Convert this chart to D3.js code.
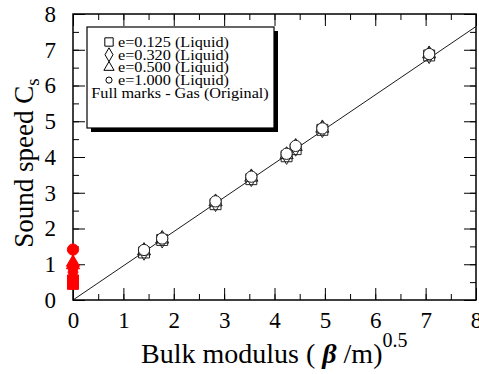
<!DOCTYPE html>
<html lang="en">
<head>
<meta charset="UTF-8">
<title>Sound speed</title>
<script src="https://d3js.org/d3.v7.min.js"></script>
<style>
  body { margin: 0; background: #fff; }
  text { font-family: "Liberation Serif", "Times New Roman", serif; }
</style>
</head>
<body>
<div id="chart"></div>
<script>
// liquid data (x = sqrt(beta/m), y = sound speed)
const xLiquid = [1.41, 1.77, 2.83, 3.54, 4.24, 4.42, 4.95, 7.07];
const ySquare = [1.33, 1.68, 2.68, 3.38, 4.02, 4.22, 4.76, 6.84];
const yDiamond = [1.36, 1.70, 2.72, 3.42, 4.04, 4.27, 4.79, 6.86];
const yTriangle = [1.37, 1.70, 2.74, 3.43, 4.06, 4.29, 4.80, 6.88];
const yCircle = [1.40, 1.72, 2.76, 3.45, 4.09, 4.31, 4.80, 6.88];
// gas (original) values, all at x = 0
const gasSquare = [0.45, 0.55];
const gasDiamond = [0.78, 0.88];
const gasTriangle = [0.98, 1.05];
const gasCircle = [1.41];
// fit line
const fitLine = [[0, 0], [8, 7.65]];
const legendLabels = ["e=0.125 (Liquid)", "e=0.320 (Liquid)", "e=0.500 (Liquid)", "e=1.000 (Liquid)"];
const xTicks = [0, 1, 2, 3, 4, 5, 6, 7, 8];
const yTicks = [0, 1, 2, 3, 4, 5, 6, 7, 8];

const W = 479, H = 374;
const margin = { top: 14, right: 3, bottom: 74, left: 73 };
const width = W - margin.left - margin.right,
      height = H - margin.top - margin.bottom;

const svg = d3.select("#chart").append("svg")
    .attr("width", W).attr("height", H);
const g = svg.append("g")
    .attr("transform", "translate(" + margin.left + "," + margin.top + ")");

const x = d3.scaleLinear().domain([0, 8]).range([0, width]);
const y = d3.scaleLinear().domain([0, 8]).range([height, 0]);

// minor/major ticks, inward on all four sides
const minor = d3.range(0, 8.01, 0.5);
function drawTicks(axisFn, scale, values, transform, len, pad) {
    const a = g.append("g").attr("transform", transform)
        .call(axisFn(scale).tickValues(minor)
            .tickSize(-len * 0.5)
            .tickFormat(""));
    a.select(".domain").remove();
    a.selectAll("line").attr("stroke", "#000")
        .attr("stroke-width", 1);
    const b = g.append("g").attr("transform", transform)
        .call(axisFn(scale).tickValues(values)
            .tickSize(-len)
            .tickPadding(pad || 0)
            .tickFormat(pad ? d3.format("d") : ""));
    b.select(".domain").remove();
    b.selectAll("line").attr("stroke", "#000").attr("stroke-width", 1);
    b.selectAll("text").style("font-size", "23px")
        .style("font-family", "'Liberation Serif', serif").attr("fill", "#000");
    return b;
}
drawTicks(d3.axisBottom, x, xTicks, "translate(0," + height + ")", 12, 12);
drawTicks(d3.axisTop, x, xTicks, "translate(0,0)", 12, 0);
drawTicks(d3.axisLeft, y, yTicks, "translate(0,0)", 12, 17);
drawTicks(d3.axisRight, y, yTicks, "translate(" + width + ",0)", 12, 0);

g.append("rect").attr("width", width).attr("height", height)
    .attr("fill", "none").attr("stroke", "#000").attr("stroke-width", 1.5);

// fit line
g.append("path").datum(fitLine)
    .attr("d", d3.line().x(d => x(d[0])).y(d => y(d[1])))
    .attr("fill", "none").attr("stroke", "#000").attr("stroke-width", 0.9);

const symSquare = d3.symbol().type(d3.symbolSquare).size(120);
const symDiamond = d3.symbol().type(d3.symbolDiamond).size(90);
const symTriangle = d3.symbol().type(d3.symbolTriangle).size(75);
const symCircle = d3.symbol().type(d3.symbolCircle).size(100);

function drawSeries(ys, sym, fill, stroke, xs) {
    g.append("g").selectAll("path")
        .data(ys)
        .join("path")
        .attr("d", sym)
        .attr("transform", (d, i) => "translate(" + x(xs ? xs[i] : 0) + "," + y(d) + ")")
        .attr("fill", fill)
        .attr("stroke", stroke)
        .attr("stroke-width", 1);
}

drawSeries(ySquare, symSquare, "none", "#222", xLiquid);
drawSeries(yDiamond, symDiamond, "none", "#222", xLiquid);
drawSeries(yTriangle, symTriangle, "none", "#222", xLiquid);
drawSeries(yCircle, symCircle, "#fff", "#222", xLiquid);

// gas marks (full, red)
drawSeries(gasSquare, symSquare, "red", "red");
drawSeries(gasDiamond, symDiamond, "red", "red");
drawSeries(gasTriangle, symTriangle, "red", "red");
drawSeries(gasCircle, symCircle, "red", "red");

// legend
const lg = svg.append("g").attr("transform", "translate(87,27)");
lg.append("rect").attr("x", 4).attr("y", 4).attr("width", 187).attr("height", 101).attr("fill", "#000");
lg.append("rect").attr("width", 187).attr("height", 101)
    .attr("fill", "#fff").attr("stroke", "#000").attr("stroke-width", 1.2);
const legSyms = [
    d3.symbol().type(d3.symbolSquare).size(70),
    d3.symbol().type(d3.symbolDiamond).size(55),
    d3.symbol().type(d3.symbolTriangle).size(45),
    d3.symbol().type(d3.symbolCircle).size(30)
];
legendLabels.forEach((t, i) => {
    const base = 20 + i * 12.7;
    lg.append("path").attr("d", legSyms[i])
        .attr("transform", "translate(22," + (base - 5) + ")")
        .attr("fill", "none").attr("stroke", "#000").attr("stroke-width", 1);
    lg.append("text").attr("transform", "translate(31," + base + ") scale(1.12,1)")
        .style("font-size", "14.5px").text(t);
});
lg.append("text").attr("transform", "translate(93," + (20 + 4 * 12.7) + ") scale(1.12,1)")
    .attr("text-anchor", "middle")
    .style("font-size", "14.5px").text("Full marks - Gas (Original)");

// axis titles
const xt = svg.append("text").attr("x", 141).attr("y", 363)
    .style("font-size", "28px");
xt.append("tspan").text("Bulk modulus ( ");
xt.append("tspan").style("font-weight", "bold").style("font-style", "italic").text("β");
xt.append("tspan").text(" /m)");
xt.append("tspan").attr("dy", "-16").style("font-size", "20px").text("0.5");

const yt = svg.append("text")
    .attr("transform", "translate(33,163) rotate(-90)")
    .attr("text-anchor", "middle").style("font-size", "27px");
yt.append("tspan").text("Sound speed C");
yt.append("tspan").attr("dy", "6").style("font-size", "19px").text("s");
</script>
</body>
</html>
